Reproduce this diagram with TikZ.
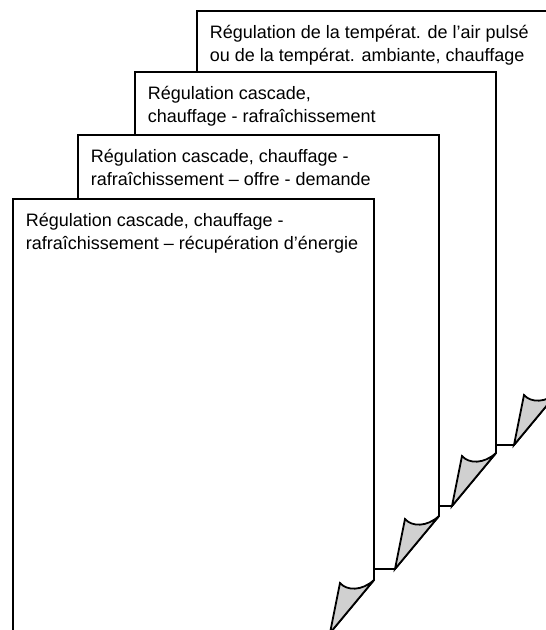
\documentclass[tikz,border=0pt]{standalone}
\usepackage{fontspec}
\setmainfont{Liberation Sans}
\usetikzlibrary{calc}
\definecolor{curlGray}{RGB}{208,208,208}
\newcommand{\foldpage}[4]{%
  \begin{scope}[shift={(#1,#2)}]
    \filldraw[fill=white] (0,0) -- (361,0) -- (361,381) -- (317,434)
      -- (0,434) -- cycle;
    \filldraw[fill=curlGray] (361,381) -- (317,434) -- (327,384)
      .. controls (334,392) and (349,392) .. cycle;
    \node[pagetext] (#3) at (12,50) {#4};
  \end{scope}}

\begin{document}
\begin{tikzpicture}[x=1pt, y=-1pt, line width=1.8pt,
    pagetext/.style={anchor=base west, align=left, inner sep=0pt,
      font=\fontsize{18}{23}\selectfont}]
  \useasboundingbox (0,0) rectangle (546,630);
  \clip (0,0) rectangle (546,630);
  \foldpage{197}{11}{airpulse}{Régulation de la températ. de l’air pulsé\\ou de la températ. ambiante, chauffage}
  \foldpage{135}{72}{cascade}{Régulation cascade,\\chauffage - rafraîchissement}
  \foldpage{78}{135}{offre}{Régulation cascade, chauffage -\\rafraîchissement – offre - demande}
  \foldpage{13}{199}{recup}{Régulation cascade, chauffage -\\rafraîchissement – récupération d’énergie}
\end{tikzpicture}
\end{document}
